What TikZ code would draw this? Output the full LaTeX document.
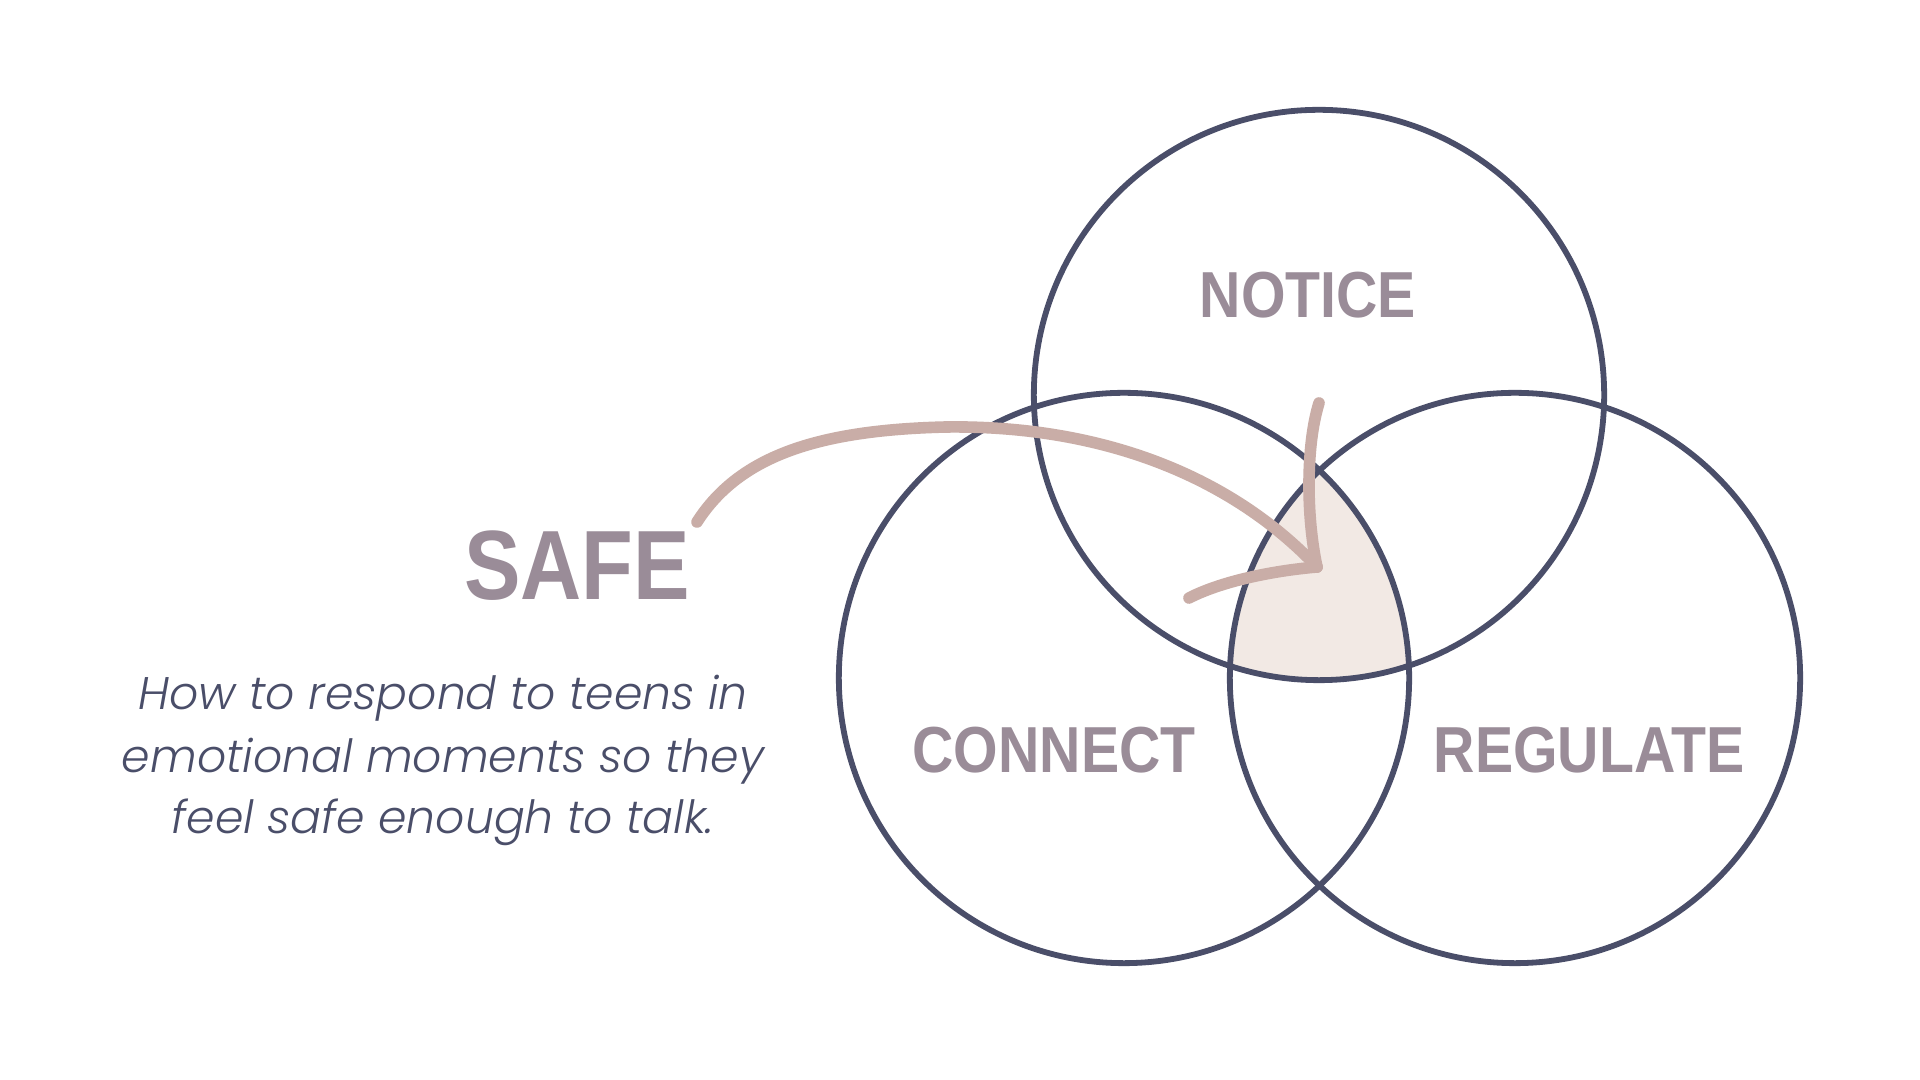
\documentclass[tikz,border=0pt]{standalone}
\usepackage{fontspec}
\setmainfont{Liberation Sans}
\newfontfamily\labelfont[FakeStretch=0.88]{Liberation Sans}
\newfontfamily\safefont[FakeStretch=0.86]{Liberation Sans}
\newfontfamily\subfont[ItalicFont={* Light Italic}]{Poppins}
\definecolor{circ}{HTML}{4A4E69}
\definecolor{lab}{HTML}{9A8C98}
\definecolor{arr}{HTML}{C9ADA7}
\definecolor{centerfill}{HTML}{F2E9E4}
\tikzset{
  ring/.style={draw=circ, line width=1.65pt},
  lbl/.style={text=lab, font=\labelfont\bfseries\fontsize{18.5pt}{20pt}\selectfont, anchor=base, inner sep=0pt},
  safelbl/.style={text=lab, font=\safefont\bfseries\fontsize{28pt}{30pt}\selectfont, anchor=base, inner sep=0pt},
  subline/.style={text=circ, font=\subfont\itshape\fontsize{13pt}{15pt}\selectfont, anchor=base, inner sep=0pt},
  hand/.style={draw=arr, line width=3.3pt, line cap=round, line join=round}
}
\begin{document}
\begin{tikzpicture}[x=0.01cm, y=-0.01cm]
\useasboundingbox (0,0) rectangle (1920,1080);
\fill[white] (0,0) rectangle (1920,1080);
\coordinate (cN) at (1319,395);
\coordinate (cC) at (1124,678);
\coordinate (cR) at (1515,678);
% triple intersection
\begin{scope}
  \clip (cN) circle [radius=2.85cm];
  \clip (cC) circle [radius=2.85cm];
  \fill[centerfill] (cR) circle [radius=2.85cm];
\end{scope}
\draw[ring] (cN) circle [radius=2.85cm];
\draw[ring] (cC) circle [radius=2.85cm];
\draw[ring] (cR) circle [radius=2.85cm];
% labels
\node[lbl] (notice) at (1308,318) {NOTICE};
\node[lbl] (connect) at (1054,773) {CONNECT};
\node[lbl] (regulate) at (1589,773) {REGULATE};
\node[safelbl] (safe) at (577,600) {SAFE};
\node[subline] (sub1) at (443,710) {How to respond to teens in};
\node[subline] (sub2) at (443,773) {emotional moments so they};
\node[subline] (sub3) at (443,834) {feel safe enough to talk.};
% hand-drawn arrow
\coordinate (a0) at (697,522);
\coordinate (a1) at (946,427);
\coordinate (tip) at (1317,567);
\coordinate (h1) at (1319,403);
\coordinate (h2) at (1189,598);
\draw[hand] (a0) .. controls (740,455) and (820,430) .. (a1)
  .. controls (1100,425) and (1230,475) .. (tip);
\draw[hand] (h1) .. controls (1306,445) and (1306,515) .. (tip);
\draw[hand] (h2) .. controls (1220,582) and (1270,571) .. (tip);
\end{tikzpicture}
\end{document}
